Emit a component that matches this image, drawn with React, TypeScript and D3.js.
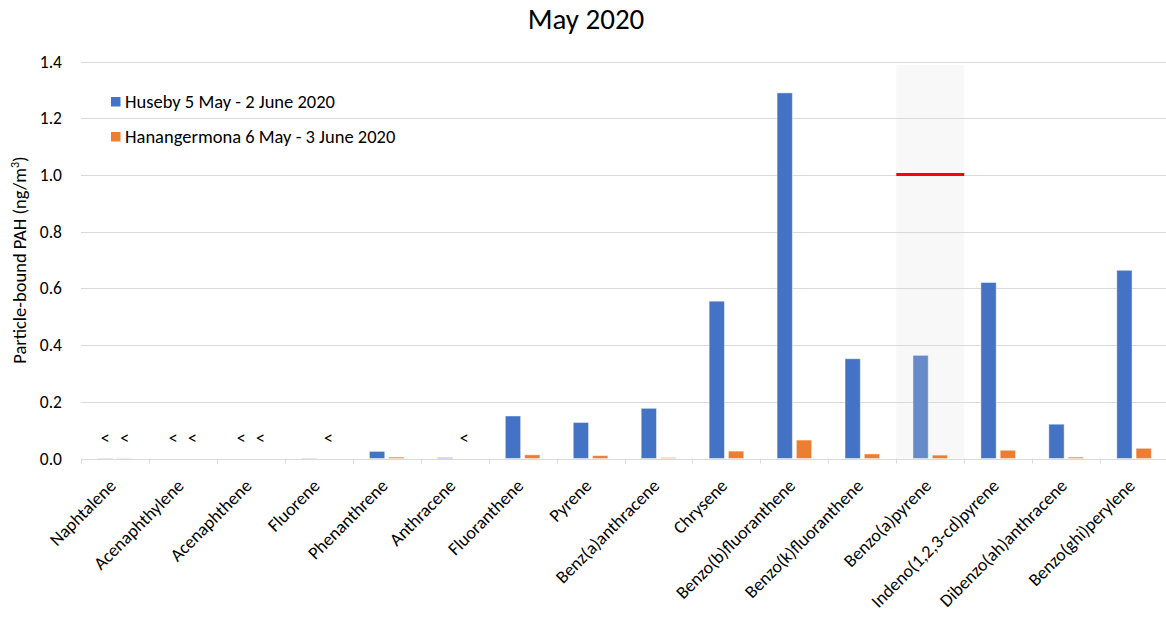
import React from "react";
import * as d3 from "d3";

const categories = [
  "Naphtalene", "Acenaphthylene", "Acenaphthene", "Fluorene", "Phenanthrene", "Anthracene",
  "Fluoranthene", "Pyrene", "Benz(a)anthracene", "Chrysene", "Benzo(b)fluoranthene",
  "Benzo(k)fluoranthene", "Benzo(a)pyrene", "Indeno(1,2,3-cd)pyrene", "Dibenzo(ah)anthracene",
  "Benzo(ghi)perylene",
];
const seriesNames = ["Huseby 5 May - 2 June 2020", "Hanangermona 6 May - 3 June 2020"];
const huseby = [0.001, 0, 0, 0.001, 0.025, 0.003, 0.15, 0.127, 0.177, 0.555, 1.29, 0.352, 0.364, 0.621, 0.121, 0.664];
const hanangermona = [0.001, 0, 0, 0, 0.005, 0.0, 0.013, 0.01, 0.003, 0.026, 0.065, 0.016, 0.012, 0.029, 0.005, 0.036];
const belowLodHuseby = [true, true, true, false, false, false, false, false, false, false, false, false, false, false, false, false];
const belowLodHanangermona = [true, true, true, true, false, true, false, false, false, false, false, false, false, false, false, false];
const yTicks = [0, 0.2, 0.4, 0.6, 0.8, 1.0, 1.2, 1.4];
const targetCategory = "Benzo(a)pyrene";
const targetValue = 1.0;

const W = 1166;
const H = 617;
const FONT = "Carlito, Calibri, Lato, sans-serif";

export default function App() {
  const x = d3.scaleBand<string>().domain(categories).range([81, 81 + 16 * 67.94]).padding(0);
  const inner = d3.scaleBand<string>().domain(["h", "a"]).range([0, x.bandwidth()]).paddingInner(0.207).paddingOuter(0.865);
  const y = d3.scaleLinear().domain([0, 1.4]).range([458.5, 61.7]);
  const colors = ["#4472C4", "#ED7D31"];
  const series = [huseby, hanangermona];
  const lods = [belowLodHuseby, belowLodHanangermona];
  const keys = ["h", "a"];
  const tx = x(targetCategory)!;

  return (
    <svg width={W} height={H} style={{ position: "absolute", left: 0, top: 0, background: "#fff" }} fontFamily={FONT}>
      <rect x={0} y={0} width={W} height={H} fill="#fff" />
      <text x={586} y={29} textAnchor="middle" fontSize={29} fill="#000">May 2020</text>
      {/* highlight band */}
      <rect x={tx} y={65} width={x.bandwidth()} height={y(0) - 65} fill="#f8f8f8" />
      {/* gridlines */}
      {yTicks.map((t) => (
        <line key={t} x1={81} x2={W} y1={Math.round(y(t)) + 0.5} y2={Math.round(y(t)) + 0.5} stroke="#d9d9d9" strokeWidth={1} />
      ))}
      {yTicks.map((t) => (
        <text key={"l" + t} x={62} y={y(t) + 6} textAnchor="end" fontSize={17.5} fill="#000">{t.toFixed(1)}</text>
      ))}
      {/* category ticks */}
      {categories.map((c) => (
        <line key={"t" + c} x1={Math.round(x(c)!) + 0.5} x2={Math.round(x(c)!) + 0.5} y1={y(0)} y2={y(0) + 5} stroke="#d9d9d9" />
      ))}
      {/* bars */}
      {series.map((vals, si) =>
        vals.map((v, i) => {
          const c = categories[i];
          const bx = x(c)! + inner(keys[si])!;
          const fill = c === targetCategory && si === 0 ? "#678BCA" : colors[si];
          return (
            <rect key={si + "-" + i} x={bx} y={y(v)} width={inner.bandwidth()} height={y(0) - y(v)} fill={fill}
              stroke="#fff" strokeOpacity={0.45} strokeWidth={1} />
          );
        })
      )}
      {/* below LOD markers */}
      {lods.map((arr, si) =>
        arr.map((b, i) =>
          b ? (
            <text key={"lod" + si + i} x={x(categories[i])! + inner(keys[si])! + inner.bandwidth() / 2} y={444}
              textAnchor="middle" fontSize={18} fill="#000">&lt;</text>
          ) : null
        )
      )}
      {/* target line */}
      <line x1={tx} x2={tx + x.bandwidth()} y1={y(targetValue) - 0.5} y2={y(targetValue) - 0.5} stroke="#ff0000" strokeWidth={3} />
      {/* x labels */}
      {categories.map((c) => {
        const cx = x(c)! + x.bandwidth() / 2;
        return (
          <text key={"x" + c} transform={`translate(${cx + 2},${487}) rotate(-45)`} textAnchor="end" fontSize={18} fill="#000">{c}</text>
        );
      })}
      {/* y title */}
      <text transform={`translate(26,260) rotate(-90)`} textAnchor="middle" fontSize={18.5} fill="#000">
        Particle-bound PAH (ng/m<tspan dy={-7} fontSize={12}>3</tspan><tspan dy={7}>)</tspan>
      </text>
      {/* legend */}
      {seriesNames.map((n, i) => (
        <g key={n} transform={`translate(111,${97 + i * 35})`}>
          <rect x={0} y={0} width={9.5} height={9.5} fill={colors[i]} />
          <text x={14} y={11} fontSize={18.5} fill="#000">{n}</text>
        </g>
      ))}
    </svg>
  );
}
